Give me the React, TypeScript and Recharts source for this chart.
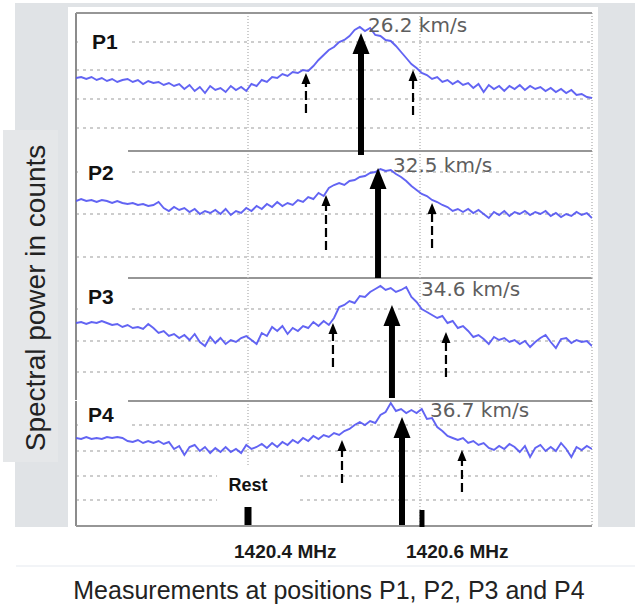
import React from 'react'
import {
  LineChart, Line, XAxis, YAxis, CartesianGrid,
  ReferenceLine, ReferenceArea, ReferenceDot,
} from 'recharts'

// channel frequencies, MHz
const freq = [
  1420.200, 1420.206, 1420.212, 1420.218, 1420.224, 1420.230, 1420.236, 1420.242, 1420.248, 1420.254,
  1420.260, 1420.266, 1420.272, 1420.278, 1420.284, 1420.290, 1420.296, 1420.302, 1420.308, 1420.314,
  1420.320, 1420.326, 1420.332, 1420.338, 1420.344, 1420.350, 1420.356, 1420.362, 1420.368, 1420.374,
  1420.380, 1420.386, 1420.392, 1420.398, 1420.404, 1420.410, 1420.416, 1420.422, 1420.428, 1420.434,
  1420.440, 1420.446, 1420.452, 1420.458, 1420.464, 1420.470, 1420.476, 1420.482, 1420.488, 1420.494,
  1420.500, 1420.506, 1420.512, 1420.518, 1420.524, 1420.530, 1420.536, 1420.542, 1420.548, 1420.554,
  1420.560, 1420.566, 1420.572, 1420.578, 1420.584, 1420.590, 1420.596, 1420.602, 1420.608, 1420.614,
  1420.620, 1420.626, 1420.632, 1420.638, 1420.644, 1420.650, 1420.656, 1420.662, 1420.668, 1420.674,
  1420.680, 1420.686, 1420.692, 1420.698, 1420.704, 1420.710, 1420.716, 1420.722, 1420.728, 1420.734,
  1420.740, 1420.746, 1420.752, 1420.758, 1420.764, 1420.770, 1420.776, 1420.782, 1420.788, 1420.794,
  1420.800,
]

// spectral power per position (arbitrary counts)
const p1 = [
  73, 74, 72, 74, 71, 73, 70, 72, 69, 71,
  72, 69, 71, 67, 70, 68, 69, 66, 68, 65,
  67, 62, 66, 60, 64, 58, 65, 61, 63, 59,
  65, 61, 64, 60, 67, 65, 71, 69, 74, 73,
  77, 75, 79, 78, 81, 80, 85, 91, 96, 101,
  104, 109, 111, 115, 121, 124, 120, 123, 116, 115,
  111, 110, 105, 99, 93, 87, 83, 78, 76, 72,
  74, 69, 71, 67, 70, 66, 68, 63, 67, 59,
  66, 62, 65, 60, 65, 62, 66, 61, 65, 62,
  64, 60, 63, 59, 62, 58, 61, 56, 57, 54,
  53,
]
const p2 = [
  77, 79, 77, 78, 76, 78, 77, 75, 77, 75,
  74, 75, 73, 74, 72, 73, 76, 70, 67, 71,
  68, 70, 66, 69, 64, 67, 65, 68, 64, 69,
  63, 67, 65, 70, 67, 72, 69, 74, 71, 76,
  72, 75, 73, 78, 76, 81, 79, 85, 82, 90,
  93, 95, 93, 97, 98, 101, 102, 105, 106, 109,
  107, 108, 104, 101, 97, 92, 88, 84, 82, 78,
  76, 73, 71, 67, 69, 66, 69, 65, 68, 64,
  60, 66, 63, 67, 62, 66, 64, 67, 63, 66,
  64, 67, 62, 65, 61, 64, 62, 66, 63, 65,
  60,
]
const p3 = [
  77, 78, 76, 78, 77, 79, 77, 75, 76, 73,
  75, 72, 73, 71, 76, 72, 67, 69, 64, 66,
  62, 65, 60, 66, 58, 54, 63, 57, 62, 56,
  60, 58, 62, 64, 60, 56, 67, 64, 73, 69,
  74, 66, 72, 69, 74, 72, 78, 74, 79, 75,
  82, 93, 95, 99, 97, 104, 103, 108, 111, 114,
  110, 112, 108, 110, 113, 103, 98, 91, 88, 85,
  82, 84, 77, 79, 72, 74, 69, 63, 65, 61,
  56, 63, 60, 62, 58, 60, 56, 59, 53, 58,
  62, 65, 58, 52, 61, 62, 57, 60, 58, 59,
  54,
]
const p4 = [
  88, 87, 89, 87, 88, 87, 89, 88, 89, 88,
  85, 84, 86, 83, 85, 83, 85, 82, 84, 77,
  80, 71, 79, 81, 75, 79, 73, 78, 74, 79,
  74, 77, 73, 81, 77, 79, 82, 78, 83, 79,
  84, 81, 86, 83, 88, 85, 90, 87, 91, 89,
  93, 91, 95, 97, 101, 104, 101, 105, 103, 111,
  114, 123, 115, 117, 113, 116, 113, 117, 107, 108,
  99, 95, 90, 88, 86, 88, 83, 85, 81, 83,
  78, 76, 80, 77, 82, 79, 74, 80, 69, 78,
  81, 75, 79, 75, 83, 77, 69, 79, 76, 80,
  77,
]
const spectra = [p1, p2, p3, p4]

const panelNames = ['P1', 'P2', 'P3', 'P4']
const velocities = ['26.2 km/s', '32.5 km/s', '34.6 km/s', '36.7 km/s']
const powerMax = [138, 127, 122, 125]
const powerTicks = [[23, 52, 81, 109], [21, 42, 64, 85, 106], [28, 59, 91], [26, 50, 75, 101]]
const freqDomain = [1420.2, 1420.8]
const freqTicks = [1420.4, 1420.6, 1420.8]
const freqLabels = [1420.4, 1420.6]

// peak (solid) and half-width (dashed) markers: [freq, from, to]
const peakArrows = [[1420.5314, -4, 118], [1420.5512, 0, 110], [1420.5674, 2, 95], [1420.5791, 1, 109]]
const lowWing = [[1420.4674, 38, 78], [1420.4907, 28, 83], [1420.4988, 33, 77], [1420.5093, 43, 86]]
const highWing = [[1420.5919, 36, 81], [1420.614, 30, 75], [1420.6302, 23, 68], [1420.6488, 34, 76]]
const velocityAt = [[1420.5395, 126], [1420.5686, 113], [1420.6012, 111], [1420.6116, 116]]
const nameAt = [[1420.2186, 109.5], [1420.214, 105.5], [1420.214, 103.5], [1420.214, 111.5]]
const nameBox = [[1420.2651, 95, 123], [1420.2605, 93, 126], [1420.2605, 85, 121], [1420.2605, 94, 124]]
const restFreq = 1420.4
const restMark = [1, 19]
const upperFreq = 1420.6023
const upperMark = [-1, 16]
const restLabelAt = [1420.4, 41]
const restBox = [1420.364, 1420.4605, 18, 61]

// layout
const W = 635
const H = 613
const panelTop = [13, 151, 278, 401]
const panelBottom = [151, 278, 400, 526]
const SANS = 'Liberation Sans, Arial, Helvetica, sans-serif'
const BLUE = '#5153f2'

function solidArrow(p: any) {
  const { x1, y1, x2, y2 } = p
  const head = 21
  return (
    <g>
      <line x1={x1} y1={y1} x2={x2} y2={y2 + head - 2} stroke="#000" strokeWidth={6} />
      <polygon points={`${x2},${y2} ${x2 - 8.5},${y2 + head} ${x2 + 8.5},${y2 + head}`} fill="#000" />
    </g>
  )
}

function dashedArrow(p: any) {
  const { x1, y1, x2, y2 } = p
  const head = 11
  return (
    <g>
      <line x1={x1} y1={y1} x2={x2} y2={y2 + head} stroke="#000" strokeWidth={2.2} strokeDasharray="9 4" />
      <polygon points={`${x2},${y2} ${x2 - 4.5},${y2 + head} ${x2 + 4.5},${y2 + head}`} fill="#000" />
    </g>
  )
}

const textShape = (label: string, size: number, style: any) => (p: any) => (
  <text x={p.cx} y={p.cy + size * 0.36} fontSize={size} {...style}>{label}</text>
)

function FreqTick(props: any) {
  const { x, y, payload } = props
  if (!freqLabels.includes(payload.value)) return <g />
  return (
    <text x={x - 14} y={y + 32} fontFamily={SANS} fontWeight="bold" fontSize={19} fill="#1a1a1a">
      {`${payload.value.toFixed(1)} MHz`}
    </text>
  )
}

function Panel({ i }: { i: number }) {
  const data = freq.map((f, k) => ({ f, power: spectra[i][k] }))
  const last = i === 3
  const axisH = last ? 80 : 0
  const gray = '#969696'
  return (
    <div style={{ position: 'absolute', left: 0, top: 0 }}>
      <LineChart
        width={W}
        height={H}
        data={data}
        margin={{ top: panelTop[i], right: W - 592, left: 76, bottom: H - panelBottom[i] - axisH }}
      >
        <CartesianGrid vertical={false} horizontalValues={powerTicks[i]} stroke="#9c9c9c" strokeWidth={1.2} strokeDasharray="3 4" />
        <CartesianGrid horizontal={false} verticalValues={freqTicks} stroke="#bdbdbd" strokeWidth={1.5} strokeDasharray="1 2" />
        <XAxis
          dataKey="f"
          type="number"
          domain={freqDomain}
          ticks={freqTicks}
          allowDataOverflow
          hide={!last}
          height={axisH}
          interval={0}
          axisLine={false}
          tickLine={false}
          tickSize={0}
          tickMargin={0}
          tick={<FreqTick />}
          label={last ? {
            content: (p: any) => {
              const vb = p.viewBox
              return (
                <text x={vb.x + vb.width / 2 - 5} y={vb.y + 73} textAnchor="middle" fontFamily={SANS} fontSize={25} fill="#222">
                  Measurements at positions P1, P2, P3 and P4
                </text>
              )
            },
          } : undefined}
        />
        <YAxis hide domain={[0, powerMax[i]]} allowDataOverflow />
        <ReferenceArea
          x1={1420.2023} x2={nameBox[i][0]} y1={nameBox[i][1]} y2={nameBox[i][2]}
          fill="#fff" fillOpacity={1} stroke="none"
        />
        {last && (
          <ReferenceArea
            x1={restBox[0]} x2={restBox[1]} y1={restBox[2]} y2={restBox[3]}
            fill="#fff" fillOpacity={1} stroke="none"
          />
        )}
        <ReferenceLine x={1420.2} stroke="#8c8c8c" strokeWidth={2} />
        <ReferenceLine
          segment={[{ x: i === 0 ? 1420.2 : nameBox[i][0], y: powerMax[i] }, { x: 1420.8, y: powerMax[i] }]}
          stroke={gray}
          strokeWidth={2.2}
        />
        {last && <ReferenceLine y={0} stroke={gray} strokeWidth={2.2} />}
        <Line
          type="linear"
          dataKey="power"
          stroke={BLUE}
          strokeWidth={1.9}
          strokeOpacity={0.9}
          dot={false}
          isAnimationActive={false}
        />
        <ReferenceLine
          segment={[{ x: lowWing[i][0], y: lowWing[i][1] }, { x: lowWing[i][0], y: lowWing[i][2] }]}
          ifOverflow="visible"
          shape={dashedArrow}
        />
        <ReferenceLine
          segment={[{ x: highWing[i][0], y: highWing[i][1] }, { x: highWing[i][0], y: highWing[i][2] }]}
          ifOverflow="visible"
          shape={dashedArrow}
        />
        <ReferenceLine
          segment={[{ x: peakArrows[i][0], y: peakArrows[i][1] }, { x: peakArrows[i][0], y: peakArrows[i][2] }]}
          ifOverflow="visible"
          shape={solidArrow}
        />
        <ReferenceDot
          x={velocityAt[i][0]} y={velocityAt[i][1]} r={0}
          shape={textShape(velocities[i], 20, { fontFamily: 'DejaVu Sans, Verdana, sans-serif', fill: '#5e5e5e' })}
        />
        <ReferenceDot
          x={nameAt[i][0]} y={nameAt[i][1]} r={0}
          shape={textShape(panelNames[i], 21, { fontFamily: SANS, fontWeight: 'bold', fill: '#111' })}
        />
        {last && (
          <ReferenceDot
            x={restLabelAt[0]} y={restLabelAt[1]} r={0}
            shape={textShape('Rest', 18, { fontFamily: SANS, fontWeight: 'bold', fill: '#111', textAnchor: 'middle' })}
          />
        )}
        {last && (
          <ReferenceLine
            segment={[{ x: restFreq, y: restMark[0] }, { x: restFreq, y: restMark[1] }]}
            ifOverflow="visible"
            stroke="#000"
            strokeWidth={7}
          />
        )}
        {last && (
          <ReferenceLine
            segment={[{ x: upperFreq, y: upperMark[0] }, { x: upperFreq, y: upperMark[1] }]}
            ifOverflow="visible"
            stroke="#000"
            strokeWidth={5}
          />
        )}
      </LineChart>
    </div>
  )
}

export default function App() {
  return (
    <div style={{ position: 'absolute', left: 0, top: 0, width: W, height: H, background: '#fff', overflow: 'hidden' }}>
      <svg width={W} height={H} style={{ position: 'absolute', left: 0, top: 0 }}>
        <rect x={15} y={3} width={W - 15} height={524} fill="#e0e3e6" />
        <rect x={68} y={7} width={530} height={520} fill="#fff" />
        <rect x={3} y={130} width={55} height={332} fill="#e5e7e9" />
        <line x1={16} y1={566} x2={W} y2={566} stroke="#eef1f4" strokeWidth={1.5} />
        <text
          x={45}
          y={298}
          transform="rotate(-90 45 298)"
          textAnchor="middle"
          fontFamily={SANS}
          fontSize={28}
          fill="#222"
        >
          Spectral power in counts
        </text>
      </svg>
      {[3, 2, 1, 0].map((i) => <Panel key={i} i={i} />)}
    </div>
  )
}
